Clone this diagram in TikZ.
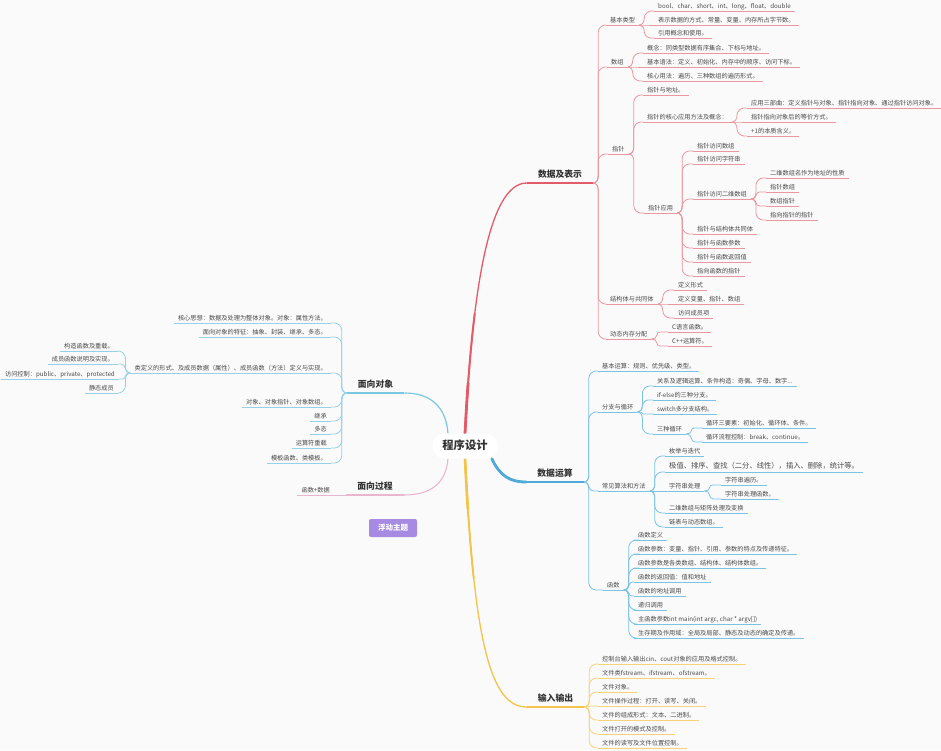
\documentclass[tikz,border=0pt]{standalone}
\usepackage{fontspec}
\setmainfont{Noto Sans CJK SC}
\usetikzlibrary{calc,backgrounds}

\definecolor{bg}{HTML}{FAFAFA}
\definecolor{txt}{HTML}{4A4A4A}
\definecolor{headtxt}{HTML}{333333}
\definecolor{redmain}{HTML}{E35B68}
\definecolor{redsub}{HTML}{EA97A0}
\definecolor{bluemain}{HTML}{4FA9D9}
\definecolor{bluesub}{HTML}{7CC2E3}
\definecolor{oomain}{HTML}{7CC6DF}
\definecolor{oosub}{HTML}{98D1E5}
\definecolor{yelmain}{HTML}{F3C34A}
\definecolor{yelsub}{HTML}{F6D377}
\definecolor{pinkmain}{HTML}{E8B6CF}
\definecolor{purplebox}{HTML}{A78BE2}

\tikzset{
  leaf/.style={font=\fontsize{6.2}{7}\selectfont, text=txt, inner xsep=4pt,
    inner ysep=1.2pt, text height=5.2pt, text depth=1.1pt},
  bigleaf/.style={leaf, font=\fontsize{7.3}{8.5}\selectfont, text height=6.2pt,
    text depth=1.3pt, inner ysep=1.8pt},
  branch/.style={font=\bfseries\fontsize{8.8}{10}\selectfont, text=headtxt,
    inner xsep=11pt, inner ysep=3.6pt, text height=7.4pt, text depth=1.6pt},
  rootnode/.style={font=\bfseries\fontsize{11.3}{13}\selectfont, text=headtxt,
    fill=white, rounded corners=12pt, inner xsep=10pt, inner ysep=7pt,
    text height=9pt, text depth=2pt},
  floatbox/.style={fill=purplebox, rounded corners=2pt, text=white,
    font=\bfseries\fontsize{7.5}{9}\selectfont, minimum width=48pt, minimum height=18pt}
}

% topic growing to the right: text above an underline, curve enters at the left end
\newcommand\topicR[6]{%
  \node[#1,anchor=south west] (#3) at (#4,#5) {#6};
  \draw[line width=0.8pt,#2] (#3.south west) -- (#3.south east);}
% topic growing to the left: curve enters at the right end
\newcommand\topicL[6]{%
  \node[#1,anchor=south east] (#3) at (#4,#5) {#6};
  \draw[line width=0.8pt,#2] (#3.south west) -- (#3.south east);}

% rounded elbow connector, parent hub -> child underline (rightwards)
\newcommand\linkR[3]{%
  \draw[line width=0.8pt,#1] let \p1=(#2), \p2=(#3),
    \n1={max(-7pt,min(7pt,(\y2-\y1)/2))}, \n2={abs(\n1)} in
    (\p1) .. controls ({\x1+3pt},\y1) and ({\x1+5pt},{\y1+0.4*(\n1)}) .. ({\x1+5pt},{\y1+(\n1)})
    -- ({\x1+5pt},{\y2-(\n1)})
    .. controls ({\x1+5pt},{\y2-0.45*(\n1)}) and ({\x1+5pt+0.55*(\n2)},\y2) .. ({\x1+5pt+(\n2)},\y2)
    -- (\p2);}
% same, leftwards
\newcommand\linkL[3]{%
  \draw[line width=0.8pt,#1] let \p1=(#2), \p2=(#3),
    \n1={max(-7pt,min(7pt,(\y2-\y1)/2))}, \n2={abs(\n1)} in
    (\p1) .. controls ({\x1-3pt},\y1) and ({\x1-5pt},{\y1+0.4*(\n1)}) .. ({\x1-5pt},{\y1+(\n1)})
    -- ({\x1-5pt},{\y2-(\n1)})
    .. controls ({\x1-5pt},{\y2-0.45*(\n1)}) and ({\x1-5pt-0.55*(\n2)},\y2) .. ({\x1-5pt-(\n2)},\y2)
    -- (\p2);}

% main branch drawn thicker near the root
\newcommand\taper[5]{%
  \draw[#1,line width=#2,line cap=round] #5;
  \draw[#1,line width=#3,line cap=round,dash pattern=on 120pt off 3000pt] #5;
  \draw[#1,line width=#4,line cap=round,dash pattern=on 50pt off 3000pt] #5;}

\begin{document}
\begin{tikzpicture}[x=1pt,y=-1pt]
\useasboundingbox (0,0) rectangle (941,750);

\node[rootnode] (root) at (465,446) {程序设计};

% ---------------- 数据及表示 ----------------
\node[branch,anchor=south] (DR) at (560,183) {数据及表示};
\draw[redmain,line width=1.2pt] (DR.south west) -- (DR.south east);

\topicR{leaf}{redsub}{A1}{606}{25}{基本类型}
\topicR{leaf}{redsub}{A11}{654}{11}{bool、char、short、int、long、float、double}
\topicR{leaf}{redsub}{A12}{654}{25}{表示数据的方式、常量、变量、内存所占字节数。}
\topicR{leaf}{redsub}{A13}{654}{38}{引用概念和使用。}
\topicR{leaf}{redsub}{A2}{607}{67}{数组}
\topicR{leaf}{redsub}{A21}{643}{53}{概念：同类型数据有序集合、下标与地址。}
\topicR{leaf}{redsub}{A22}{643}{67}{基本语法：定义、初始化、内存中的顺序、访问下标。}
\topicR{leaf}{redsub}{A23}{643}{81}{核心用法：遍历、三种数组的遍历形式。}
\topicR{leaf}{redsub}{A3}{608}{154}{指针}
\topicR{leaf}{redsub}{A31}{643}{95}{指针与地址。}
\topicR{leaf}{redsub}{A32}{643}{122}{指针的核心应用方法及概念：}
\topicR{leaf}{redsub}{A321}{747}{108}{应用三部曲：定义指针与对象、指针指向对象、通过指针访问对象。}
\topicR{leaf}{redsub}{A322}{747}{122}{指针指向对象后的等价方式。}
\topicR{leaf}{redsub}{A323}{747}{136}{+1的本质含义。}
\topicR{leaf}{redsub}{A33}{644}{213}{指针应用}
\topicR{leaf}{redsub}{A331}{693}{151}{指针访问数组}
\topicR{leaf}{redsub}{A332}{693}{164}{指针访问字符串}
\topicR{leaf}{redsub}{A333}{693}{199}{指针访问二维数组}
\topicR{leaf}{redsub}{A3331}{766}{178}{二维数组名作为地址的性质}
\topicR{leaf}{redsub}{A3332}{766}{192}{指针数组}
\topicR{leaf}{redsub}{A3333}{766}{206}{数组指针}
\topicR{leaf}{redsub}{A3334}{766}{220}{指向指针的指针}
\topicR{leaf}{redsub}{A334}{693}{234}{指针与结构体共同体}
\topicR{leaf}{redsub}{A335}{693}{248}{指针与函数参数}
\topicR{leaf}{redsub}{A336}{693}{262}{指针与函数返回值}
\topicR{leaf}{redsub}{A337}{693}{276}{指向函数的指针}
\topicR{leaf}{redsub}{A4}{606}{304}{结构体与共同体}
\topicR{leaf}{redsub}{A41}{674}{290}{定义形式}
\topicR{leaf}{redsub}{A42}{674}{304}{定义变量、指针、数组}
\topicR{leaf}{redsub}{A43}{674}{318}{访问成员项}
\topicR{leaf}{redsub}{A5}{606}{339}{动态内存分配}
\topicR{leaf}{redsub}{A51}{668}{332}{C语言函数。}
\topicR{leaf}{redsub}{A52}{668}{346}{C++运算符。}

% ---------------- 数据运算 ----------------
\node[branch,anchor=south] (DY) at (555,482) {数据运算};
\draw[bluemain,line width=1.2pt] (DY.south west) -- (DY.south east);

\topicR{leaf}{bluesub}{B1}{598}{371}{基本运算：规则、优先级、类型。}
\topicR{leaf}{bluesub}{B2}{598}{412}{分支与循环}
\topicR{leaf}{bluesub}{B21}{653}{386}{关系及逻辑运算、条件构造：奇偶、字母、数字...}
\topicR{leaf}{bluesub}{B22}{653}{400}{if-else的三种分支。}
\topicR{leaf}{bluesub}{B23}{653}{414}{switch多分支结构。}
\topicR{leaf}{bluesub}{B24}{653}{434}{三种循环}
\topicR{leaf}{bluesub}{B241}{702}{428}{循环三要素：初始化、循环体、条件。}
\topicR{leaf}{bluesub}{B242}{702}{442}{循环流程控制：break、continue。}
\topicR{leaf}{bluesub}{B3}{598}{491}{常见算法和方法}
\topicR{leaf}{bluesub}{B31}{665}{456}{枚举与迭代}
\topicR{bigleaf}{bluesub}{B32}{665}{472}{极值、排序、查找（二分、线性），插入、删除，统计等。}
\topicR{leaf}{bluesub}{B33}{665}{491}{字符串处理}
\topicR{leaf}{bluesub}{B331}{721}{485}{字符串遍历。}
\topicR{leaf}{bluesub}{B332}{721}{499}{字符串处理函数。}
\topicR{leaf}{bluesub}{B34}{665}{513}{二维数组与矩阵处理及变换}
\topicR{leaf}{bluesub}{B35}{665}{527}{链表与动态数组。}
\topicR{leaf}{bluesub}{B4}{603}{590}{函数}
\topicR{leaf}{bluesub}{B41}{634}{540}{函数定义}
\topicR{leaf}{bluesub}{B42}{634}{554}{函数参数：变量、指针、引用、参数的特点及传递特征。}
\topicR{leaf}{bluesub}{B43}{634}{568}{函数参数是各类数组、结构体、结构体数组。}
\topicR{leaf}{bluesub}{B44}{634}{582}{函数的返回值：值和地址}
\topicR{leaf}{bluesub}{B45}{634}{596}{函数的地址调用}
\topicR{leaf}{bluesub}{B46}{634}{610}{递归调用}
\topicR{leaf}{bluesub}{B47}{634}{624}{主函数参数int main(int argc, char * argv[])}
\topicR{leaf}{bluesub}{B48}{634}{638}{生存期及作用域：全局及局部、静态及动态的确定及传递。}

% ---------------- 输入输出 ----------------
\node[branch,anchor=south] (IO) at (555.5,707) {输入输出};
\draw[yelmain,line width=1.2pt] (IO.south west) -- (IO.south east);

\topicR{leaf}{yelsub}{C1}{598}{664}{控制台输入输出cin、cout对象的应用及格式控制。}
\topicR{leaf}{yelsub}{C2}{598}{678}{文件类fstream、ifstream、ofstream。}
\topicR{leaf}{yelsub}{C3}{598}{692}{文件对象。}
\topicR{leaf}{yelsub}{C4}{598}{706}{文件操作过程：打开、读写、关闭。}
\topicR{leaf}{yelsub}{C5}{598}{720}{文件的组成形式：文本、二进制。}
\topicR{leaf}{yelsub}{C6}{598}{734}{文件打开的模式及控制。}
\topicR{leaf}{yelsub}{C7}{598}{748}{文件的读写及文件位置控制。}

% ---------------- 面向对象 ----------------
\node[branch,anchor=south] (OO) at (375.5,393) {面向对象};
\draw[oomain,line width=1.2pt] (OO.south west) -- (OO.south east);

\topicL{leaf}{oosub}{D1}{331}{323}{核心思想：数据及处理为整体对象。对象：属性方法。}
\topicL{leaf}{oosub}{D2}{331}{337}{面向对象的特征：抽象、封装、继承、多态。}
\topicL{leaf}{oosub}{D3}{331}{373}{类定义的形式、及成员数据（属性）、成员函数（方法）定义与实现。}
\topicL{leaf}{oosub}{D31}{118}{351}{构造函数及重载。}
\topicL{leaf}{oosub}{D32}{118}{364}{成员函数说明及实现。}
\topicL{leaf}{oosub}{D33}{119}{379}{访问控制：public、private、protected}
\topicL{leaf}{oosub}{D34}{118}{393}{静态成员}
\topicL{leaf}{oosub}{D4}{331}{407}{对象、对象指针、对象数组。}
\topicL{leaf}{oosub}{D5}{331}{421}{继承}
\topicL{leaf}{oosub}{D6}{331}{434}{多态}
\topicL{leaf}{oosub}{D7}{331}{448}{运算符重载}
\topicL{leaf}{oosub}{D8}{331}{463}{模板函数、类模板。}

% ---------------- 面向过程 ----------------
\node[branch,anchor=south] (PO) at (375,495) {面向过程};
\draw[pinkmain,line width=1.1pt] (PO.south west) -- (PO.south east);
\topicL{leaf}{pinkmain}{E1}{334}{495}{函数+数据}

% floating topic
\node[floatbox] (float) at (393,528) {浮动主题};

\begin{pgfonlayer}{background}
  \fill[bg] (0,0) rectangle (941,750);

  % main branches from the root
  \taper{redmain}{1.3pt}{2pt}{2.8pt}{(root.north) .. controls (472,300) and (487,183) .. (DR.south west)}
  \taper{bluemain}{1.3pt}{2pt}{2.8pt}{([xshift=-6pt]root.south east) .. controls (500,476) and (510,482) .. (DY.south west)}
  \taper{yelmain}{1.3pt}{1.9pt}{2.6pt}{(root.south) .. controls (474,640) and (490,707) .. (IO.south west)}
  \draw[oomain,line width=1.2pt] ([xshift=-17pt]root.north) .. controls (446,408) and (432,393) .. (OO.south east);
  \draw[pinkmain,line width=1.1pt] ([xshift=-17pt]root.south) .. controls (446,484) and (430,495) .. (PO.south east);

  % 数据及表示
  \foreach \c in {A1,A2,A3,A4,A5} {\linkR{redsub}{DR.south east}{\c.south west}}
  \foreach \c in {A11,A12,A13} {\linkR{redsub}{A1.south east}{\c.south west}}
  \foreach \c in {A21,A22,A23} {\linkR{redsub}{A2.south east}{\c.south west}}
  \foreach \c in {A31,A32,A33} {\linkR{redsub}{A3.south east}{\c.south west}}
  \foreach \c in {A321,A322,A323} {\linkR{redsub}{A32.south east}{\c.south west}}
  \foreach \c in {A331,A332,A333,A334,A335,A336,A337} {\linkR{redsub}{A33.south east}{\c.south west}}
  \foreach \c in {A3331,A3332,A3333,A3334} {\linkR{redsub}{A333.south east}{\c.south west}}
  \foreach \c in {A41,A42,A43} {\linkR{redsub}{A4.south east}{\c.south west}}
  \foreach \c in {A51,A52} {\linkR{redsub}{A5.south east}{\c.south west}}

  % 数据运算
  \foreach \c in {B1,B2,B3,B4} {\linkR{bluesub}{DY.south east}{\c.south west}}
  \foreach \c in {B21,B22,B23,B24} {\linkR{bluesub}{B2.south east}{\c.south west}}
  \foreach \c in {B241,B242} {\linkR{bluesub}{B24.south east}{\c.south west}}
  \foreach \c in {B31,B32,B33,B34,B35} {\linkR{bluesub}{B3.south east}{\c.south west}}
  \foreach \c in {B331,B332} {\linkR{bluesub}{B33.south east}{\c.south west}}
  \foreach \c in {B41,B42,B43,B44,B45,B46,B47,B48} {\linkR{bluesub}{B4.south east}{\c.south west}}

  % 输入输出
  \foreach \c in {C1,C2,C3,C4,C5,C6,C7} {\linkR{yelsub}{IO.south east}{\c.south west}}

  % 面向对象
  \foreach \c in {D1,D2,D3,D4,D5,D6,D7,D8} {\linkL{oosub}{OO.south west}{\c.south east}}
  \foreach \c in {D31,D32,D33,D34} {\linkL{oosub}{D3.south west}{\c.south east}}

  % 面向过程
  \linkL{pinkmain}{PO.south west}{E1.south east}
\end{pgfonlayer}
\end{tikzpicture}
\end{document}
